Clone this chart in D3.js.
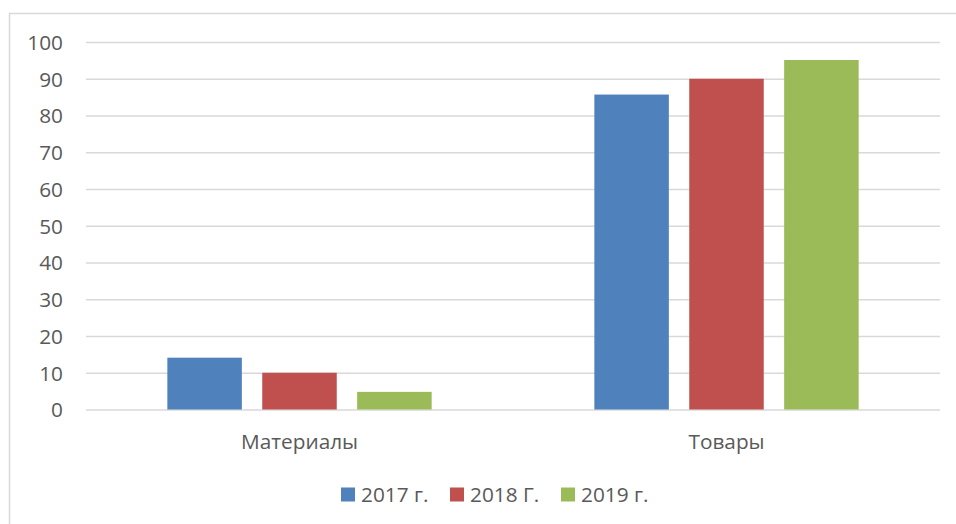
<!DOCTYPE html>
<html><head><meta charset="utf-8">
<script src="https://cdn.jsdelivr.net/npm/d3@7"></script>
<style>body{margin:0;background:#fff}svg{display:block}text{font-family:"Open Sans","Noto Sans",sans-serif;fill:#595959}</style>
</head><body>
<svg id="c" width="956" height="524"></svg>
<script>
const categories = ["Материалы", "Товары"];
const seriesNames = ["2017 г.", "2018 Г.", "2019 г."];
const values2017 = [14.1, 85.7];
const values2018 = [10, 90];
const values2019 = [4.8, 95.1];
const yTicks = [0, 10, 20, 30, 40, 50, 60, 70, 80, 90, 100];
const colors = ["#4f81bd", "#c0504d", "#9bbb59"];

const series = [values2017, values2018, values2019];
const svg = d3.select("#c");
svg.append("rect").attr("x", 9.5).attr("y", 13.5).attr("width", 960).attr("height", 530)
  .attr("fill", "#fff").attr("stroke", "#d9d9d9").attr("stroke-width", 1.5);

const FS = 20.8;
const plotL = 86, plotR = 940, plotT = 42, plotB = 409.5;
const y = d3.scaleLinear().domain([0, 100]).range([plotB, plotT]);
const x0 = d3.scaleBand().domain(categories).range([plotL, plotR]).paddingInner(0.381).paddingOuter(0.1905);
const x1 = d3.scaleBand().domain(d3.range(seriesNames.length)).range([0, x0.bandwidth()]).paddingInner(0.215).paddingOuter(0);

const yAxis = d3.axisLeft(y).tickValues(yTicks).tickSize(-(plotR - plotL)).tickPadding(23);
const ga = svg.append("g").attr("transform", `translate(${plotL},0)`).call(yAxis);
ga.select(".domain").remove();
ga.selectAll(".tick line").attr("stroke", "#d9d9d9").attr("stroke-width", 1.5);
ga.selectAll(".tick text").attr("font-size", FS).attr("fill", "#595959").attr("x", -23).attr("dy", "0.35em")
  .attr("font-family", "'Open Sans','Noto Sans',sans-serif");

const g = svg.append("g");
categories.forEach((c, i) => {
  series.forEach((s, j) => {
    g.append("rect").attr("x", x0(c) + x1(j)).attr("y", y(s[i]))
      .attr("width", x1.bandwidth()).attr("height", y(0) - y(s[i]))
      .attr("fill", colors[j]);
  });
});

const xAxis = d3.axisBottom(x0).tickSize(0).tickPadding(25);
const gx = svg.append("g").attr("transform", `translate(0,${plotB})`).call(xAxis);
gx.select(".domain").remove();
gx.selectAll(".tick text").attr("font-size", FS).attr("fill", "#595959").attr("dy", "0.71em")
  .attr("font-family", "'Open Sans','Noto Sans',sans-serif");

const legX = [341, 450, 561];
const leg = svg.append("g");
seriesNames.forEach((n, j) => {
  leg.append("rect").attr("x", legX[j]).attr("y", 487.5).attr("width", 14).attr("height", 14).attr("fill", colors[j]);
  leg.append("text").attr("x", legX[j] + 20).attr("y", 494.5).attr("dy", "0.35em").attr("font-size", FS).text(n);
});
</script>
</body></html>
